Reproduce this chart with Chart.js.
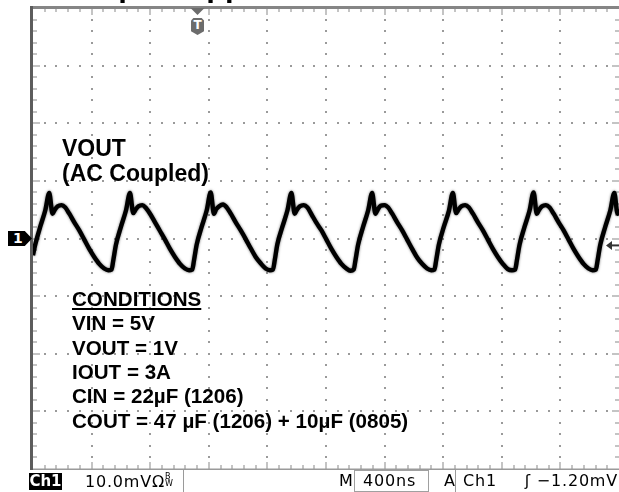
<!DOCTYPE html>
<html>
<head>
<meta charset="utf-8">
<script src="https://cdn.jsdelivr.net/npm/chart.js@4.4.1/dist/chart.umd.min.js"></script>
<style>
  html, body { margin: 0; padding: 0; background: #fff; }
  #wrap { position: relative; width: 619px; height: 492px; overflow: hidden; font-family: "Liberation Sans", Arial, sans-serif; }
  #scope { position: absolute; left: 0; top: 0; }
  .lbl { position: absolute; font-weight: bold; color: #000; line-height: 1; white-space: nowrap; }
  .big { font-size: 23px; left: 62px; }
  .cond { font-size: 20.6px; left: 72px; }
  #title { font-size: 31px; left: 65px; top: -30px; }
  #gnd { position: absolute; left: 8px; width: 24px; height: 15px; background: #000; color: #fff;
         font: bold 14px "DejaVu Sans", sans-serif; line-height: 15px; text-indent: 5px;
         clip-path: polygon(0 0, 70% 0, 100% 50%, 70% 100%, 0 100%); }
  #trigT { position: absolute; top: 18px; width: 13px; height: 17px; background: #6c6c6c; color: #fff;
           font: bold 12px "DejaVu Sans", sans-serif; line-height: 15px; text-align: center;
           clip-path: polygon(18% 0, 82% 0, 100% 15%, 100% 78%, 50% 100%, 0 78%, 0 15%); }
  .st { position: absolute; top: 473px; font: 16px "DejaVu Sans", sans-serif; letter-spacing: 0.8px; line-height: 1; color: #000; white-space: nowrap; }
  .sep { position: absolute; top: 470px; width: 1px; height: 22px; background: #9a9a9a; }
  #ch1 { position: absolute; left: 29px; top: 473px; width: 33px; height: 17px; background: #000; color: #fff;
         font: bold 15px "DejaVu Sans", sans-serif; line-height: 17px; text-align: center; }
  #tbox { position: absolute; left: 354px; top: 470px; width: 73px; height: 20px; border: 1px solid #a0a0a0; }
  .bw { display: inline-block; font-size: 8px; line-height: 7px; letter-spacing: 0; vertical-align: 1px; }
</style>
</head>
<body>
<div id="wrap">
  <canvas id="scope" width="619" height="492"></canvas>
  <div class="lbl" id="title">Output Ripple</div>
  <div class="lbl big" style="top:137px">VOUT</div>
  <div class="lbl big" style="top:161.5px">(AC Coupled)</div>
  <div class="lbl cond" style="top:288.6px"><u>CONDITIONS</u></div>
  <div class="lbl cond" style="top:313px">VIN = 5V</div>
  <div class="lbl cond" style="top:337.5px">VOUT = 1V</div>
  <div class="lbl cond" style="top:362px">IOUT = 3A</div>
  <div class="lbl cond" style="top:386.4px">CIN = 22µF (1206)</div>
  <div class="lbl cond" style="top:410.9px">COUT = 47 µF (1206) + 10µF (0805)</div>
  <div id="gnd">1</div>
  <div id="trigT">T</div>

  <div id="ch1">Ch1</div>
  <div class="st" style="left:85px">10.0mVΩ<span class="bw">B<br>W</span></div>
  <div class="sep" style="left:183px"></div>
  <div class="st" style="left:339px">M</div>
  <div id="tbox"></div>
  <div class="st" style="left:363px">400ns</div>
  <div class="st" style="left:444px">A</div>
  <div class="sep" style="left:455px"></div>
  <div class="st" style="left:463px">Ch1</div>
  <div class="st" style="right:1px">ʃ −1.20mV</div>
</div>

<script>
'use strict'

// SCOPE SETTINGS
const NS_PER_DIV = 400;
const MV_PER_DIV = 10;
const DIVS_X = 10;
const DIVS_Y = 8;
const TRIGGER_NS = 1123;
const TRIGGER_LEVEL_MV = -1.2;

// VOUT TRACE, time in ns from the left edge, voltage in mV
const timeNs = [
  0, 15, 49, 84,
  111, 133, 149, 169, 195, 220, 248, 282, 316, 350, 384, 418, 452, 486, 514, 536, 548, 566, 600, 635,
  662, 684, 700, 720, 746, 771, 799, 833, 867, 901, 935, 969, 1003, 1037, 1065, 1087, 1099, 1117, 1151, 1186,
  1213, 1235, 1251, 1271, 1297, 1322, 1350, 1384, 1418, 1452, 1486, 1520, 1554, 1588, 1616, 1638, 1650, 1668, 1702, 1737,
  1764, 1786, 1802, 1822, 1848, 1873, 1901, 1935, 1969, 2003, 2037, 2071, 2105, 2139, 2167, 2189, 2201, 2219, 2253, 2288,
  2315, 2337, 2353, 2373, 2399, 2424, 2452, 2486, 2520, 2554, 2588, 2622, 2656, 2690, 2718, 2740, 2752, 2770, 2804, 2839,
  2866, 2888, 2904, 2924, 2950, 2975, 3003, 3037, 3071, 3105, 3139, 3173, 3207, 3241, 3269, 3291, 3303, 3321, 3355, 3390,
  3417, 3439, 3455, 3475, 3501, 3526, 3554, 3588, 3622, 3656, 3690, 3724, 3758, 3792, 3820, 3842, 3854, 3872, 3906, 3941,
  3968, 3990, 4006
];
const voutMv = [
  -2.9, -1.1, 2.0, 4.9,
  7.9, 4.3, 5.0, 5.6, 5.8, 5.4, 4.3, 2.8, 1.4, -0.2, -1.8, -3.2, -4.4, -5.2, -5.5, -5.4, -3.8, -1.1, 2.0, 4.9,
  7.9, 4.4, 5.0, 5.6, 5.8, 5.3, 4.3, 2.8, 1.3, -0.2, -1.8, -3.2, -4.4, -5.2, -5.5, -5.4, -3.8, -1.1, 2.0, 4.9,
  8.0, 4.3, 5.1, 5.6, 5.9, 5.4, 4.3, 2.8, 1.4, -0.1, -1.7, -3.2, -4.3, -5.2, -5.5, -5.4, -3.8, -1.0, 2.0, 4.9,
  7.9, 4.3, 5.0, 5.6, 5.8, 5.4, 4.2, 2.7, 1.4, -0.2, -1.8, -3.2, -4.4, -5.2, -5.6, -5.4, -3.8, -1.1, 2.0, 4.9,
  7.9, 4.3, 5.0, 5.7, 5.8, 5.4, 4.3, 2.8, 1.4, -0.2, -1.8, -3.3, -4.4, -5.2, -5.5, -5.4, -3.8, -1.1, 2.0, 4.8,
  7.9, 4.4, 5.0, 5.6, 5.8, 5.4, 4.3, 2.8, 1.4, -0.2, -1.8, -3.2, -4.4, -5.3, -5.5, -5.4, -3.8, -1.1, 2.0, 4.9,
  8.0, 4.3, 5.0, 5.6, 5.8, 5.4, 4.3, 2.8, 1.4, -0.2, -1.8, -3.2, -4.4, -5.2, -5.5, -5.4, -3.8, -1.1, 2.0, 4.9,
  7.9, 4.3, 5.0
];

// graticule: dotted lines, frame and fifth-division ticks
const scopeGrid = {
  id: 'scopeGrid',
  beforeDatasetsDraw(chart) {
    const { ctx, chartArea: a, scales: { x, y } } = chart;
    const yMin = -DIVS_Y / 2 * MV_PER_DIV;
    ctx.save();
    ctx.fillStyle = '#9a9a9a';
    for (let i = 1; i < DIVS_X; i++) {
      const px = Math.round(x.getPixelForValue(i * NS_PER_DIV));
      for (let j = 1; j < DIVS_Y * 5; j++) {
        const py = Math.round(y.getPixelForValue(yMin + j * MV_PER_DIV / 5));
        ctx.fillRect(px - 1, py - 1, 2, 2);
      }
    }
    for (let j = 1; j < DIVS_Y; j++) {
      const py = Math.round(y.getPixelForValue(yMin + j * MV_PER_DIV));
      for (let i = 1; i < DIVS_X * 5; i++) {
        const px = Math.round(x.getPixelForValue(i * NS_PER_DIV / 5));
        ctx.fillRect(px - 1, py - 1, 2, 2);
      }
    }
    // ticks on the frame
    ctx.fillStyle = '#8a8a8a';
    for (let i = 1; i < DIVS_X * 5; i++) {
      const px = Math.round(x.getPixelForValue(i * NS_PER_DIV / 5));
      const len = i % 5 === 0 ? 7 : 4;
      ctx.fillRect(px - 0.5, a.top, 1, len);
      ctx.fillRect(px - 0.5, a.bottom - len, 1, len);
    }
    for (let j = 1; j < DIVS_Y * 5; j++) {
      const py = Math.round(y.getPixelForValue(yMin + j * MV_PER_DIV / 5));
      const len = j % 5 === 0 ? 7 : 4;
      ctx.fillRect(a.left, py - 0.5, len, 1);
      ctx.fillRect(a.right - len, py - 0.5, len, 1);
    }
    // frame
    ctx.fillStyle = '#858585';
    ctx.fillRect(a.left - 2, a.top - 2, a.right - a.left + 2, 3);
    ctx.fillStyle = '#9a9a9a';
    ctx.fillRect(a.left - 2, a.bottom - 0.5, a.right - a.left + 2, 1.5);
    ctx.fillStyle = '#5c5c5c';
    ctx.fillRect(a.left - 3, a.top - 2, 3, a.bottom - a.top + 3);
    ctx.restore();
  },
  afterDatasetsDraw(chart) {
    const { ctx, chartArea: a, scales: { x, y } } = chart;
    ctx.save();
    // trigger position triangle
    const tx = x.getPixelForValue(TRIGGER_NS);
    ctx.fillStyle = '#6c6c6c';
    ctx.beginPath();
    ctx.moveTo(tx - 7, a.top);
    ctx.lineTo(tx + 7, a.top);
    ctx.lineTo(tx, a.top + 7);
    ctx.closePath();
    ctx.fill();
    // trigger level arrow at the right edge
    const ty = y.getPixelForValue(TRIGGER_LEVEL_MV);
    ctx.strokeStyle = '#333';
    ctx.fillStyle = '#333';
    ctx.lineWidth = 2;
    ctx.beginPath();
    ctx.moveTo(a.right, ty);
    ctx.lineTo(a.right - 9, ty);
    ctx.stroke();
    ctx.beginPath();
    ctx.moveTo(a.right - 13, ty);
    ctx.lineTo(a.right - 7, ty - 4.5);
    ctx.lineTo(a.right - 7, ty + 4.5);
    ctx.closePath();
    ctx.fill();
    ctx.restore();
  }
};

// soft edge on the phosphor trace
const traceGlow = {
  id: 'traceGlow',
  beforeDatasetDraw(chart) {
    chart.ctx.save();
    chart.ctx.shadowColor = 'rgba(0,0,0,0.6)';
    chart.ctx.shadowBlur = 2.5;
  },
  afterDatasetDraw(chart) {
    chart.ctx.restore();
  }
};

function crearOsciloscopio() {
  const puntos = timeNs.map((t, i) => ({ x: t, y: voutMv[i] }));
  const chart = new Chart(document.getElementById('scope'), {
    type: 'line',
    data: {
      datasets: [{
        label: 'VOUT (AC Coupled)',
        data: puntos,
        borderColor: '#000',
        borderWidth: 4.4,
        pointRadius: 0,
        cubicInterpolationMode: 'monotone',
        fill: false
      }]
    },
    options: {
      responsive: false,
      animation: false,
      events: [],
      layout: { padding: { left: 33, right: 0, top: 8, bottom: 23 } },
      scales: {
        x: { type: 'linear', min: 0, max: DIVS_X * NS_PER_DIV, display: false },
        y: { min: -DIVS_Y / 2 * MV_PER_DIV, max: DIVS_Y / 2 * MV_PER_DIV, display: false }
      },
      plugins: {
        legend: { display: false },
        tooltip: { enabled: false }
      }
    },
    plugins: [scopeGrid, traceGlow]
  });

  // markers that carry text sit on the scales too
  document.getElementById('trigT').style.left = (chart.scales.x.getPixelForValue(TRIGGER_NS) - 6.5) + 'px';
  document.getElementById('gnd').style.top = (chart.scales.y.getPixelForValue(0) - 7.5) + 'px';
}

crearOsciloscopio();
</script>
</body>
</html>
